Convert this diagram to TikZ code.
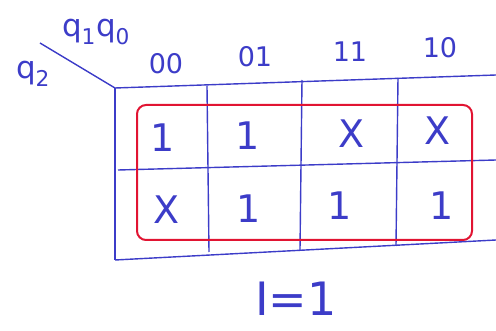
\documentclass[tikz,border=0pt]{standalone}
\usepackage{fontspec}
\setmainfont{DejaVu Sans}
\definecolor{pen}{RGB}{60,60,200}
\definecolor{redpen}{RGB}{225,20,50}
\begin{document}
\begin{tikzpicture}[x=1pt,y=-1pt,
  gridline/.style={draw=pen,line width=1.4pt},
  cellval/.style={text=pen,font=\fontsize{38}{40}\selectfont,inner sep=0pt},
  collabel/.style={text=pen,font=\fontsize{27}{29}\selectfont,inner sep=0pt},
  varlabel/.style={text=pen,font=\fontsize{31}{33}\selectfont,inner sep=0pt},
  groupbox/.style={draw=redpen,line width=2pt,rounded corners=9pt}]
\useasboundingbox (0,0) rectangle (496,331);
% grid corners
\coordinate (tl) at (115,88);
\coordinate (tr) at (496,75);
\coordinate (ml) at (118,170);
\coordinate (mr) at (496,160);
\coordinate (bl) at (115,260);
\coordinate (br) at (496,240);
\coordinate (d0) at (40,43);
\coordinate (v1t) at (207,86);
\coordinate (v1b) at (209,252);
\coordinate (v2t) at (302,80);
\coordinate (v2b) at (300,250);
\coordinate (v3t) at (398,78);
\coordinate (v3b) at (396,246);
\draw[gridline] (tl) -- (tr);
\draw[gridline] (ml) -- (mr);
\draw[gridline] (bl) -- (br);
\draw[gridline] (tl) -- (bl);
\draw[gridline] (v1t) -- (v1b);
\draw[gridline] (v2t) -- (v2b);
\draw[gridline] (v3t) -- (v3b);
\draw[gridline] (d0) -- (tl);
% labels
\node[varlabel] (q10) at (96,32) {q\textsubscript{1}q\textsubscript{0}};
\node[varlabel] (q2) at (33,74) {q\textsubscript{2}};
\node[collabel] (c00) at (166,64) {00};
\node[collabel] (c01) at (255,57) {01};
\node[collabel] (c11) at (350,52) {11};
\node[collabel] (c10) at (440,48) {10};
% group
\draw[groupbox] (137,105) rectangle (472,240);
% cells
\node[cellval] (a1) at (163,138) {1};
\node[cellval] (a2) at (248,136) {1};
\node[cellval] (a3) at (352,134) {X};
\node[cellval] (a4) at (438,131) {X};
\node[cellval] (b1) at (167,210) {X};
\node[cellval] (b2) at (249,209) {1};
\node[cellval] (b3) at (340,206) {1};
\node[cellval] (b4) at (442,206) {1};
% condition
\node[text=pen,font=\fontsize{46}{48}\selectfont,inner sep=0pt] (cond) at (296,299) {I=1};
\end{tikzpicture}
\end{document}
